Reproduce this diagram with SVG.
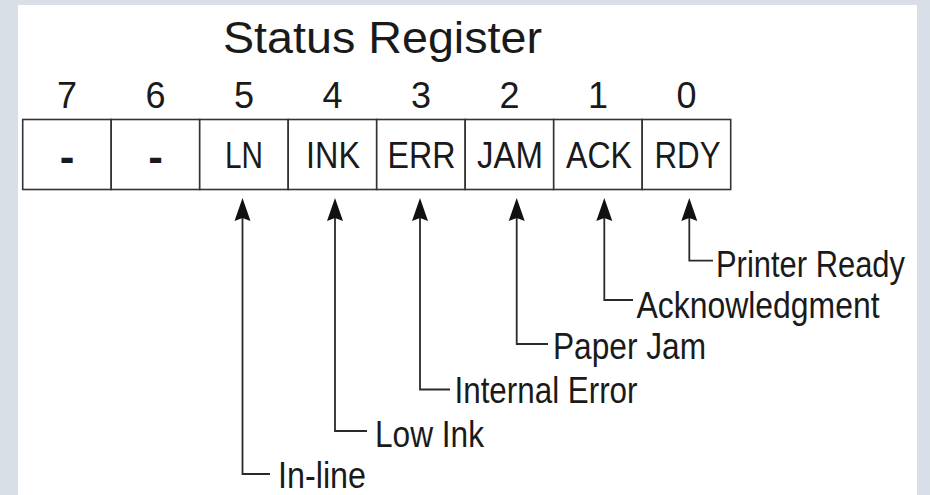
<svg xmlns="http://www.w3.org/2000/svg" width="930" height="495" viewBox="0 0 930 495">
<defs>
<style>
text{font-family:"Liberation Sans",Arial,sans-serif;fill:#1a1a1a}
.title{font-size:45px;text-anchor:middle}
.bit{font-size:36px;text-anchor:middle}
.cell{fill:#fff;stroke:#333;stroke-width:1.6}
.ct{font-size:37px;text-anchor:middle}
.dash{font-size:44px;font-weight:bold;text-anchor:middle}
.lbl{font-size:36px}
.conn{fill:none;stroke:#2a2a2a;stroke-width:1.8}
</style>
<marker id="ah" markerUnits="userSpaceOnUse" viewBox="-25 -10 30 20" markerWidth="30" markerHeight="20" refX="-7" refY="0" orient="auto">
<path d="M0,0 L-23,-8 L-20,0 L-23,8 Z" fill="#111"/>
</marker>
</defs>
<rect x="0" y="0" width="930" height="495" fill="#d8dfe6"/>
<rect x="18" y="5" width="899" height="490" fill="#fff"/>
<text class="title" x="382.5" y="52.5" textLength="319" lengthAdjust="spacingAndGlyphs">Status Register</text>
<g id="bit7"><text class="bit" x="67" y="108">7</text><rect class="cell" x="22.7" y="119.5" width="88.5" height="70"/><text class="dash" x="67" y="172">-</text></g>
<g id="bit6"><text class="bit" x="155.5" y="108">6</text><rect class="cell" x="111.2" y="119.5" width="88.5" height="70"/><text class="dash" x="155.5" y="172">-</text></g>
<g id="bit5"><text class="bit" x="244" y="108">5</text><rect class="cell" x="199.7" y="119.5" width="88.5" height="70"/><text class="ct" x="244" y="168" textLength="38" lengthAdjust="spacingAndGlyphs">LN</text></g>
<g id="bit4"><text class="bit" x="332.5" y="108">4</text><rect class="cell" x="288.2" y="119.5" width="88.5" height="70"/><text class="ct" x="333" y="168" textLength="54" lengthAdjust="spacingAndGlyphs">INK</text></g>
<g id="bit3"><text class="bit" x="421" y="108">3</text><rect class="cell" x="376.7" y="119.5" width="88.5" height="70"/><text class="ct" x="421.5" y="168" textLength="68" lengthAdjust="spacingAndGlyphs">ERR</text></g>
<g id="bit2"><text class="bit" x="509.5" y="108">2</text><rect class="cell" x="465.2" y="119.5" width="88.5" height="70"/><text class="ct" x="510" y="168" textLength="66" lengthAdjust="spacingAndGlyphs">JAM</text></g>
<g id="bit1"><text class="bit" x="598" y="108">1</text><rect class="cell" x="553.7" y="119.5" width="88.5" height="70"/><text class="ct" x="599" y="168" textLength="66" lengthAdjust="spacingAndGlyphs">ACK</text></g>
<g id="bit0"><text class="bit" x="686.5" y="108">0</text><rect class="cell" x="642.2" y="119.5" width="88.5" height="70"/><text class="ct" x="687.5" y="168" textLength="66" lengthAdjust="spacingAndGlyphs">RDY</text></g>
<g id="connectors">
<path class="conn" marker-end="url(#ah)" d="M270,474 H242.5 V205"/>
<path class="conn" marker-end="url(#ah)" d="M367,431 H335 V205"/>
<path class="conn" marker-end="url(#ah)" d="M450,389.5 H420 V205"/>
<path class="conn" marker-end="url(#ah)" d="M548,344 H516.7 V205"/>
<path class="conn" marker-end="url(#ah)" d="M633,300 H604.3 V205"/>
<path class="conn" marker-end="url(#ah)" d="M713,260.7 H689.3 V205"/>
</g>
<g id="labels">
<text class="lbl" x="278" y="487.5" textLength="88" lengthAdjust="spacingAndGlyphs">In-line</text>
<text class="lbl" x="375" y="446.5" textLength="109" lengthAdjust="spacingAndGlyphs">Low Ink</text>
<text class="lbl" x="454.5" y="403.3" textLength="183" lengthAdjust="spacingAndGlyphs">Internal Error</text>
<text class="lbl" x="553" y="359" textLength="153" lengthAdjust="spacingAndGlyphs">Paper Jam</text>
<text class="lbl" x="636.5" y="318.3" textLength="243" lengthAdjust="spacingAndGlyphs">Acknowledgment</text>
<text class="lbl" x="716" y="277.3" textLength="189" lengthAdjust="spacingAndGlyphs">Printer Ready</text>
</g>
</svg>
